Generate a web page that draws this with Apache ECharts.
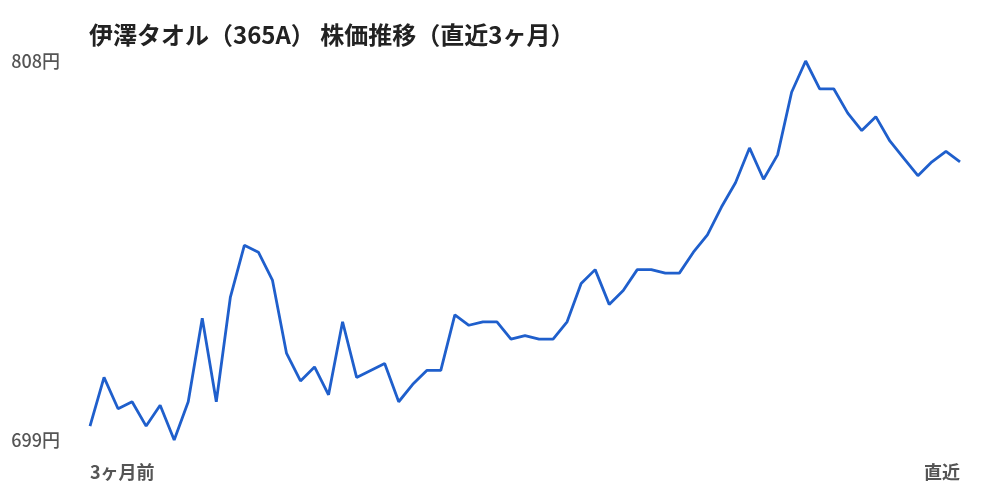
<html lang="ja">
<head>
    <meta charset="utf-8">
    <title>伊澤タオル 株価推移</title>
    <script src="https://cdn.jsdelivr.net/npm/echarts@6.0.0/dist/echarts.min.js"></script>
    <style>
        body { margin: 0; background: #fff; }
    </style>
</head>
<body>
    <div id="chart" style="width: 1000px; height: 500px;"></div>
    <script type="text/javascript">
        // 終値（3ヶ月前 → 直近）
        var prices = [
            703, 717, 708, 710, 703, 709, 699, 710, 734, 710,
            740, 755, 753, 745, 724, 716, 720, 712, 733, 717,
            719, 721, 710, 715, 719, 719, 735, 732, 733, 733,
            728, 729, 728, 728, 733, 744, 748, 738, 742, 748,
            748, 747, 747, 753, 758, 766, 773, 783, 774, 781,
            799, 808, 800, 800, 793, 788, 792, 785, 780, 775,
            779, 782, 779
        ];
        var startLabel = '3ヶ月前';
        var endLabel = '直近';
        var priceMin = 699;
        var priceMax = 808;

        var categories = prices.map(function (v, i) {
            if (i === 0) return startLabel;
            if (i === prices.length - 1) return endLabel;
            return '';
        });

        var chart = echarts.init(document.getElementById('chart'));
        var option = {
            animation: false,
            textStyle: { fontFamily: '"Noto Sans CJK JP", "Noto Sans", sans-serif' },
            title: {
                text: '伊澤タオル（365A） 株価推移（直近3ヶ月）',
                left: 84,
                top: 18,
                textStyle: {
                    fontSize: 24,
                    fontWeight: 'bold',
                    color: '#222',
                    fontFamily: '"Noto Sans CJK JP", sans-serif'
                }
            },
            grid: {
                left: 90,
                right: 40,
                top: 61,
                bottom: 60
            },
            xAxis: {
                type: 'category',
                data: categories,
                boundaryGap: false,
                axisLine: { show: false },
                axisTick: { show: false },
                splitLine: { show: false },
                axisLabel: {
                    interval: 0,
                    margin: 23,
                    fontSize: 18,
                    fontWeight: 'bold',
                    color: '#555',
                    alignMinLabel: 'left',
                    alignMaxLabel: 'right'
                }
            },
            yAxis: {
                type: 'value',
                min: priceMin,
                max: priceMax,
                interval: priceMax - priceMin,
                axisLine: { show: false },
                axisTick: { show: false },
                splitLine: { show: false },
                axisLabel: {
                    formatter: '{value}円',
                    fontSize: 18,
                    fontWeight: 500,
                    color: '#555',
                    margin: 30
                }
            },
            series: [{
                type: 'line',
                data: prices,
                showSymbol: false,
                lineStyle: { color: '#1f5fcc', width: 2.8 },
                itemStyle: { color: '#1f5fcc' }
            }]
        };
        chart.setOption(option);
    </script>
</body>
</html>
